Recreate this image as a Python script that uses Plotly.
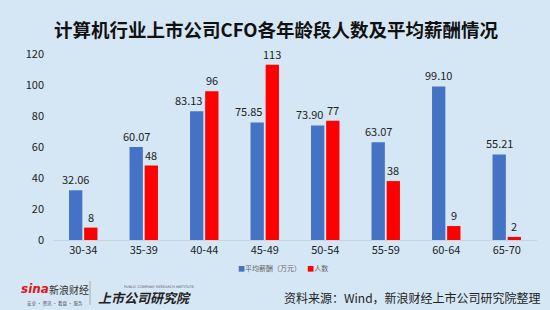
import plotly.graph_objects as go

categories = ["30-34", "35-39", "40-44", "45-49", "50-54", "55-59", "60-64", "65-70"]
avg_pay = [32.06, 60.07, 83.13, 75.85, 73.90, 63.07, 99.10, 55.21]
headcount = [8, 48, 96, 113, 77, 38, 9, 2]
y_ticks = [0, 20, 40, 60, 80, 100, 120]
series_names = ["平均薪酬（万元）", "人数"]
series_colors = ["#4472C4", "#FF0000"]

BG = "#D5E7F5"
FONT = "Noto Sans CJK SC"
LBL = dict(size=11, color="#222222", family=FONT)

fig = go.Figure()
fig.add_trace(go.Bar(
    x=categories, y=avg_pay, name=series_names[0],
    marker=dict(color=series_colors[0], line=dict(width=0)),
))
fig.add_trace(go.Bar(
    x=categories, y=headcount, name=series_names[1],
    marker=dict(color=series_colors[1], line=dict(width=0)),
))

# data labels as annotations (drawn above all bars)
BAR_OFF = 7.6   # half distance between bar centres in px
for c, a, h in zip(categories, avg_pay, headcount):
    if h > a:  # label would collide with taller red bar: right-align to blue bar edge
        fig.add_annotation(x=c, y=a, text=f"{a:.2f}", showarrow=False, xanchor="right",
                           yanchor="bottom", xshift=-BAR_OFF + 7, yshift=1, font=LBL)
    else:
        fig.add_annotation(x=c, y=a, text=f"{a:.2f}", showarrow=False, xanchor="center",
                           yanchor="bottom", xshift=-BAR_OFF, yshift=1, font=LBL)
    fig.add_annotation(x=c, y=h, text=str(h), showarrow=False, xanchor="center",
                       yanchor="bottom", xshift=BAR_OFF, yshift=1, font=LBL)

fig.update_layout(
    width=550, height=310,
    paper_bgcolor=BG, plot_bgcolor=BG,
    margin=dict(l=53, r=13, t=54, b=70),
    barmode="group", bargap=0.5, bargroupgap=0.12,
    font=dict(family=FONT, color="#222222"),
    title=dict(text="<b>计算机行业上市公司CFO各年龄段人数及平均薪酬情况</b>",
               x=(276)/550, xanchor="center", y=0.903, yanchor="middle",
               font=dict(size=18.5, color="#111111", family=FONT)),
    showlegend=False,
    xaxis=dict(showgrid=False, showline=True, linecolor="#C8D4DE", linewidth=1,
               ticks="", tickfont=dict(size=11, color="#222222", family=FONT)),
    yaxis=dict(range=[0, 120], tickvals=y_ticks, showgrid=False, zeroline=False,
               showline=False, tickfont=dict(size=11, color="#222222", family=FONT),
               ticklabelstandoff=8),
)

# custom compact legend
legend_text = "    ".join(
    f"<span style='color:{c}'>■</span>{n}" for n, c in zip(series_names, series_colors)
)
fig.add_annotation(text=legend_text, xref="paper", yref="paper",
                   x=(283-53)/484, y=-(268-240)/186, xanchor="center", yanchor="middle",
                   showarrow=False, font=dict(size=7, color="#666666", family=FONT))

# footer logos
fig.add_annotation(text="<b><i>sina</i></b>", xref="paper", yref="paper", xanchor="left",
                   x=(19-53)/484, y=-(289-240)/186, yanchor="middle", showarrow=False,
                   font=dict(size=12, color="#E0141E", family="DejaVu Sans"))
fig.add_annotation(text="新浪财经", xref="paper", yref="paper", xanchor="left",
                   x=(47-53)/484, y=-(289-240)/186, yanchor="middle", showarrow=False,
                   font=dict(size=10, color="#333333", family=FONT))
fig.add_annotation(text="安卓 · 资讯 · 看盘 · 服务", xref="paper", yref="paper", xanchor="left",
                   x=(25-53)/484, y=-(303-240)/186, yanchor="middle", showarrow=False,
                   font=dict(size=4.5, color="#555555", family=FONT))
fig.add_shape(type="line", xref="paper", yref="paper",
              x0=(90-53)/484, x1=(90-53)/484, y0=-(281-240)/186, y1=-(305-240)/186,
              line=dict(color="#AAAAAA", width=1))
fig.add_annotation(text="PUBLIC COMPANY RESEARCH INSTITUTE", xref="paper", yref="paper",
                   xanchor="left", x=(122-53)/484, y=-(287-240)/186, yanchor="middle",
                   showarrow=False, font=dict(size=3.5, color="#555555", family="DejaVu Sans"))
fig.add_annotation(text="<b><i>上市公司研究院</i></b>", xref="paper", yref="paper", xanchor="left",
                   x=(96-53)/484, y=-(297-240)/186, yanchor="middle", showarrow=False,
                   font=dict(size=13, color="#222222", family=FONT))
fig.add_annotation(text="资料来源：Wind，新浪财经上市公司研究院整理", xref="paper", yref="paper",
                   xanchor="right", x=(543-53)/484, y=-(297-240)/186, yanchor="middle",
                   showarrow=False, font=dict(size=12, color="#222222", family=FONT))

fig.write_html("out.html")
